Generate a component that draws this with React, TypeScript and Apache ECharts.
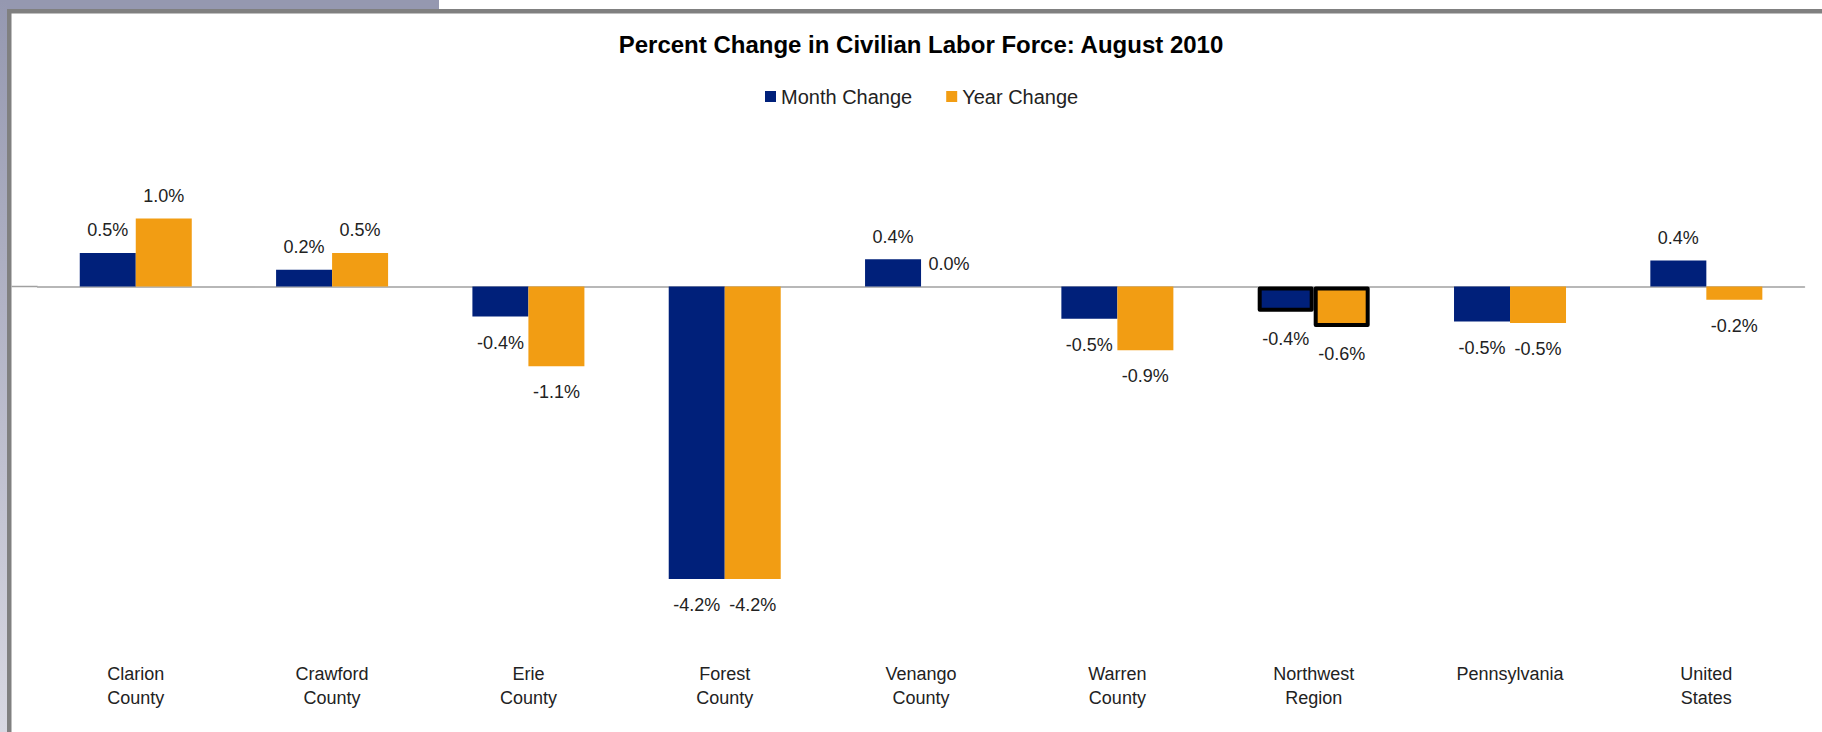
import React, { useEffect, useRef } from 'react';
import * as echarts from 'echarts';

const titleText = 'Percent Change in Civilian Labor Force: August 2010';
const seriesNames = ['Month Change', 'Year Change'];
const categories = [
  'Clarion\nCounty',
  'Crawford\nCounty',
  'Erie\nCounty',
  'Forest\nCounty',
  'Venango\nCounty',
  'Warren\nCounty',
  'Northwest\nRegion',
  'Pennsylvania',
  'United\nStates',
];
const monthChange = [0.48, 0.24, -0.43, -4.18, 0.39, -0.46, -0.36, -0.5, 0.37];
const yearChange = [0.97, 0.48, -1.14, -4.18, 0.0, -0.91, -0.58, -0.52, -0.19];
const highlightIndex = 6; // Northwest Region outlined

const FONT = '"Liberation Sans", Arial, Helvetica, sans-serif';
const MONTH_COLOR = '#00207A';
const YEAR_COLOR = '#F29D13';
const TEXT_COLOR = '#222222';

const GRID_LEFT = 37.6;

function buildData(values: number[]) {
  return values.map((v, i) => {
    const neg = v < 0;
    const hl = i === highlightIndex;
    const item: any = {
      value: v,
      label: {
        position: neg ? 'bottom' : 'top',
        distance: neg ? (hl ? 18 : 17) : 13.5,
      },
    };
    if (hl) {
      item.itemStyle = { borderColor: '#000000', borderWidth: 4, borderJoin: 'round' };
    }
    return item;
  });
}

const labelCfg = {
  show: true,
  formatter: (p: any) => Number(p.value).toFixed(1) + '%',
  fontFamily: FONT,
  fontSize: 18,
  lineHeight: 18,
  color: TEXT_COLOR,
};

export default function App() {
  const ref = useRef<HTMLDivElement>(null);

  useEffect(() => {
    if (!ref.current) return;
    const chart = echarts.init(ref.current, undefined, { renderer: 'svg' });
    const option: any = {
      animation: false,
      backgroundColor: '#ffffff',
      title: {
        text: titleText,
        left: 921,
        top: 32,
        textAlign: 'center',
        padding: 0,
        textStyle: {
          fontFamily: FONT,
          fontSize: 24,
          fontWeight: 'bold',
          color: '#000000',
          lineHeight: 24,
        },
      },
      legend: {
        data: seriesNames,
        left: 765,
        top: 86.5,
        padding: 0,
        icon: 'rect',
        itemWidth: 11,
        itemHeight: 11,
        itemGap: 34,
        textStyle: { fontFamily: FONT, fontSize: 20, lineHeight: 20, color: TEXT_COLOR },
      },
      grid: { left: GRID_LEFT, right: 17.5, top: 146.5, bottom: 95.5 },
      xAxis: [
        {
          type: 'category',
          data: categories,
          position: 'bottom',
          axisLine: { show: false, onZero: false },
          axisTick: { show: false },
          splitLine: { show: false },
          axisLabel: {
            interval: 0,
            margin: 25.5,
            fontFamily: FONT,
            fontSize: 18,
            lineHeight: 24,
            color: TEXT_COLOR,
          },
        },
        {
          type: 'category',
          data: categories,
          axisLine: { show: true, onZero: true, lineStyle: { color: '#A0A0A0', width: 1.5 } },
          axisTick: { show: false },
          axisLabel: { show: false },
          splitLine: { show: false },
        },
      ],
      yAxis: { type: 'value', min: -5, max: 2, interval: 1, show: false },
      series: [
        {
          name: seriesNames[0],
          type: 'bar',
          xAxisIndex: 0,
          barWidth: 56,
          barGap: '0%',
          itemStyle: { color: MONTH_COLOR },
          label: labelCfg,
          data: buildData(monthChange),
        },
        {
          name: seriesNames[1],
          type: 'bar',
          xAxisIndex: 0,
          barWidth: 56,
          barGap: '0%',
          itemStyle: { color: YEAR_COLOR },
          label: labelCfg,
          data: buildData(yearChange),
        },
      ],
    };
    chart.setOption(option);

    const y0 = chart.convertToPixel({ yAxisIndex: 0 }, 0) as number;
    chart.setOption({
      graphic: [
        { type: 'rect', silent: true, shape: { x: 0, y: 0, width: 439, height: 9 }, style: { fill: '#9598B0' } },
        {
          type: 'rect',
          silent: true,
          shape: { x: 0, y: 0, width: 7, height: 732 },
          style: {
            fill: new echarts.graphic.LinearGradient(0, 0, 0, 1, [
              { offset: 0, color: '#9598B0' },
              { offset: 1, color: '#D8D8E2' },
            ]),
          },
        },
        { type: 'rect', silent: true, shape: { x: 7, y: 9, width: 1815, height: 4.5 }, style: { fill: '#808080' } },
        { type: 'rect', silent: true, shape: { x: 7, y: 9, width: 4.5, height: 723 }, style: { fill: '#808080' } },
        {
          type: 'line',
          silent: true,
          shape: { x1: 11.5, y1: y0, x2: GRID_LEFT, y2: y0 },
          style: { stroke: '#A0A0A0', lineWidth: 1.5 },
        },
      ],
    });

    return () => chart.dispose();
  }, []);

  return (
    <div
      ref={ref}
      style={{ position: 'fixed', left: 0, top: 0, width: 1822, height: 732, background: '#fff' }}
    />
  );
}
